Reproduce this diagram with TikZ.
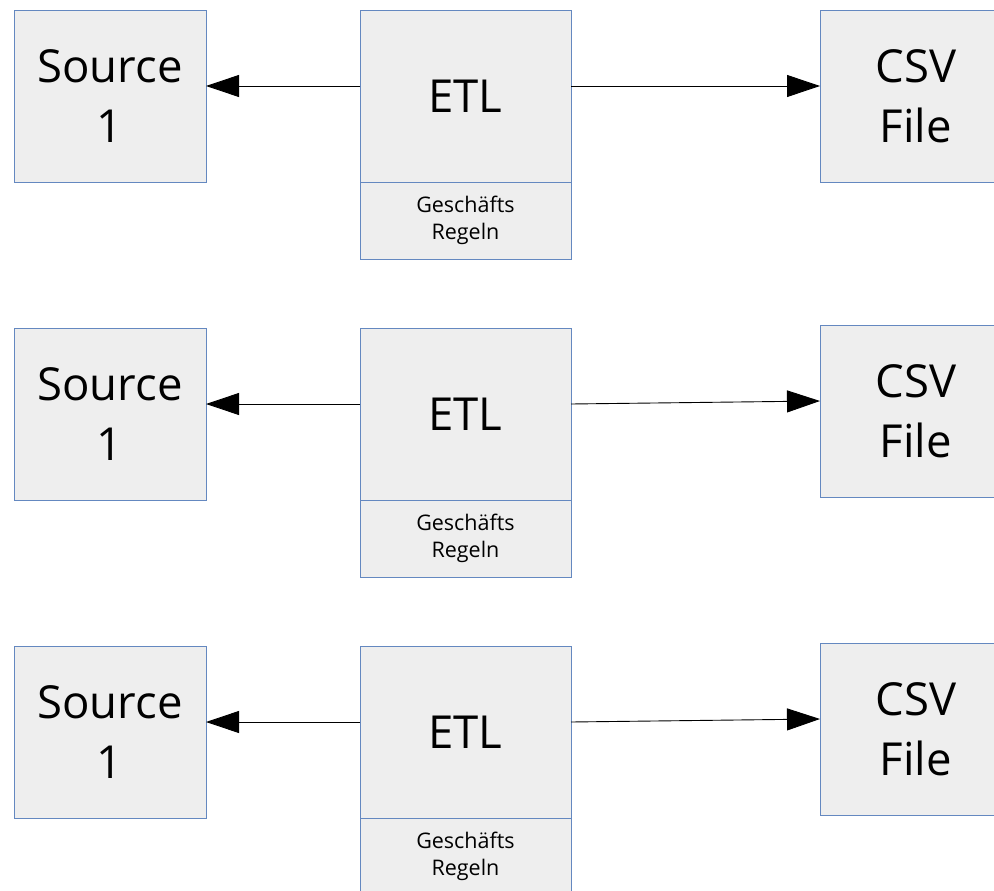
\documentclass[tikz,border=0pt]{standalone}
\usepackage{fontspec}
\setmainfont{Open Sans}
\usetikzlibrary{arrows.meta}
\definecolor{boxblue}{RGB}{100,136,192}
\definecolor{boxgray}{RGB}{238,238,238}
\tikzset{
  block/.style={draw=boxblue,fill=boxgray,line width=0.8pt,anchor=north west,
    inner sep=0pt,outer sep=0pt,align=center,minimum width=192pt,minimum height=172pt,
    font=\fontsize{45.5}{60}\selectfont},
  etlbox/.style={block,minimum width=211pt},
  rulebox/.style={block,minimum width=211pt,minimum height=77pt,font=\fontsize{21.5}{27}\selectfont},
  flow/.style={line width=0.9pt,-{Triangle[length=33pt,width=22pt]}}
}
\begin{document}
\begin{tikzpicture}[x=1pt,y=-1pt]
    \useasboundingbox (0,0) rectangle (994,891);
    \clip (0,0) rectangle (994,891);
    % first row
    \node at (14,10) [block] (src1) {Source\\1};
    \node at (360,10) [etlbox] (etl1) {ETL};
    \node at (360,182) [rulebox] (rules1) {Geschäfts\\Regeln};
    \node at (820,10) [block] (csv1) {CSV\\File};
    \draw[flow] ([yshift=10pt]etl1.west) -- ([yshift=10pt]src1.east);
    \draw[flow] ([yshift=10pt]etl1.east) -- ([yshift=10pt]csv1.west);
    % second row
    \node at (14,328) [block] (src2) {Source\\1};
    \node at (360,328) [etlbox] (etl2) {ETL};
    \node at (360,500) [rulebox] (rules2) {Geschäfts\\Regeln};
    \node at (820,325) [block] (csv2) {CSV\\File};
    \draw[flow] ([yshift=10pt]etl2.west) -- ([yshift=10pt]src2.east);
    \draw[flow] ([yshift=10pt]etl2.east) -- ([yshift=10pt]csv2.west);
    % third row
    \node at (14,646) [block] (src3) {Source\\1};
    \node at (360,646) [etlbox] (etl3) {ETL};
    \node at (360,818) [rulebox] (rules3) {Geschäfts\\Regeln};
    \node at (820,643) [block] (csv3) {CSV\\File};
    \draw[flow] ([yshift=10pt]etl3.west) -- ([yshift=10pt]src3.east);
    \draw[flow] ([yshift=10pt]etl3.east) -- ([yshift=10pt]csv3.west);
\end{tikzpicture}
\end{document}
